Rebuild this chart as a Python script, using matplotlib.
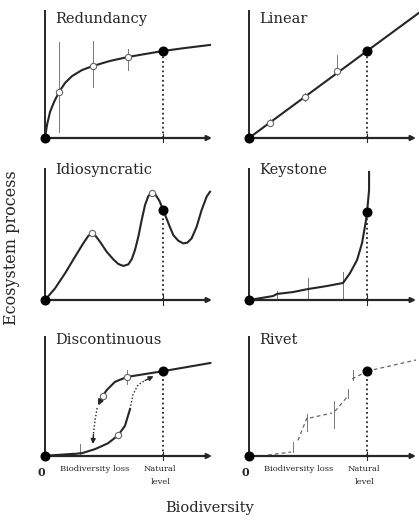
import numpy as np
import matplotlib
matplotlib.use('Agg')
import matplotlib.pyplot as plt

# ---------------- data (axes units: 0 = origin, natural level at 0.707) ----------------
NATURAL_X = 0.707
nan = np.nan

titles = ["Redundancy", "Linear", "Idiosyncratic", "Keystone", "Discontinuous", "Rivet"]
xtick_labels = ["0", "Biodiversity loss", "Natural\nlevel"]

red_x = [0, 0.012, 0.030, 0.054, 0.084, 0.120, 0.162, 0.222, 0.287, 0.389, 0.497, 0.599, 0.707, 0.838, 0.988]
red_y = [0, 0.102, 0.203, 0.281, 0.359, 0.430, 0.484, 0.531, 0.5625, 0.602, 0.633, 0.656, 0.680, 0.703, 0.727]
red_open_x = [0.084, 0.287, 0.497]
red_open_y = [0.359, 0.5625, 0.633]
red_bar_lo = [0.047, 0.40, 0.53]
red_bar_hi = [0.75, 0.76, 0.695]
red_nat_y = 0.68

lin_x = [0, 0.707, 1.02]
lin_y = [0, 0.68, 0.98]
lin_open_x = [0.126, 0.335, 0.527]
lin_open_y = [0.12, 0.32, 0.52]
lin_bar_lo = [0.09, 0.29, 0.49]
lin_bar_hi = [0.15, 0.35, 0.65]
lin_nat_y = 0.68

idi_x = [0, 0.060, 0.120, 0.180, 0.229, 0.259, 0.280, 0.299, 0.329, 0.369, 0.409, 0.439, 0.469,
         0.499, 0.519, 0.539, 0.559, 0.579, 0.599, 0.619, 0.639, 0.659, 0.685, 0.714, 0.739,
         0.768, 0.798, 0.828, 0.852, 0.878, 0.908, 0.938, 0.968, 0.988]
idi_y = [0, 0.088, 0.202, 0.328, 0.429, 0.485, 0.505, 0.492, 0.442, 0.366, 0.308, 0.273, 0.258,
         0.270, 0.308, 0.379, 0.480, 0.606, 0.720, 0.788, 0.813, 0.803, 0.752, 0.662, 0.581,
         0.492, 0.449, 0.429, 0.434, 0.467, 0.555, 0.682, 0.783, 0.820]
idi_open_x = [0.280, 0.639]
idi_open_y = [0.505, 0.813]
idi_nat_y = 0.685

key_x = [0, 0.144, 0.168, 0.263, 0.353, 0.467, 0.563, 0.605, 0.647, 0.677, 0.701, 0.707, 0.719, 0.719]
key_y = [0, 0.030, 0.046, 0.060, 0.083, 0.106, 0.129, 0.204, 0.303, 0.432, 0.606, 0.667, 0.833, 0.97]
key_bar_x = [0.168, 0.353, 0.563]
key_bar_lo = [0.015, 0.015, 0.01]
key_bar_hi = [0.07, 0.17, 0.21]
key_nat_y = 0.667

dis_flat_x = [0, 0.168]
dis_flat_y = [0, 0.016]
dis_low_x = [0.168, 0.222, 0.299, 0.377, 0.437, 0.479, 0.509]
dis_low_y = [0.016, 0.024, 0.057, 0.106, 0.171, 0.252, 0.390]
dis_lowdot_x = [0.509, 0.527, 0.557, 0.600]
dis_lowdot_y = [0.390, 0.512, 0.593, 0.630]
dis_low_arrow = (0.600, 0.630, 0.650, 0.665)
dis_up_x = [0.707, 0.599, 0.491, 0.419, 0.370, 0.345]
dis_up_y = [0.707, 0.683, 0.659, 0.618, 0.550, 0.500]
dis_up_arrow = (0.345, 0.500, 0.318, 0.420)
dis_updot_x = [0.312, 0.300, 0.293, 0.290]
dis_updot_y = [0.400, 0.300, 0.220, 0.180]
dis_updot_arrow = (0.290, 0.180, 0.287, 0.100)
dis_right_x = [0.707, 0.99]
dis_right_y = [0.707, 0.775]
dis_open_x = [0.437, 0.491, 0.345]
dis_open_y = [0.171, 0.659, 0.500]
dis_bar_x = [0.21, 0.491]
dis_bar_lo = [0.02, 0.60]
dis_bar_hi = [0.10, 0.72]
dis_nat_y = 0.707

riv_x = [0.114, 0.251, nan, 0.293, 0.347, nan, 0.365, 0.497, nan, 0.515, 0.593, nan, 0.617, 0.707, nan, 0.707, 1.0]
riv_y = [0.008, 0.033, nan, 0.130, 0.317, nan, 0.317, 0.358, nan, 0.374, 0.500, nan, 0.642, 0.707, nan, 0.707, 0.80]
riv_bar_x = [0.263, 0.347, 0.509, 0.593, 0.623]
riv_bar_lo = [0.03, 0.21, 0.236, 0.48, 0.63]
riv_bar_hi = [0.115, 0.35, 0.455, 0.56, 0.72]
riv_nat_y = 0.707

# ---------------- figure ----------------
W, H = 419, 520
fig = plt.figure(figsize=(W / 100, H / 100), dpi=100)
fig.patch.set_facecolor('white')
ink = '#262626'
grey = '#666666'
plt.rcParams['font.family'] = ['DejaVu Serif']

rows = [(10, 138), (168, 300), (336, 456)]
cols = [45, 249]
AXW = 167


def make_ax(col, row):
    x0 = cols[col]
    top, bottom = rows[row]
    ax = fig.add_axes([x0 / W, 1 - bottom / H, AXW / W, (bottom - top) / H])
    ax.set_xlim(0, 1)
    ax.set_ylim(0, 1)
    ax.axis('off')
    ax.plot([0, 0], [0, 1], color=ink, lw=1.4, clip_on=False, solid_capstyle='butt')
    ax.annotate('', xy=(1.0, 0), xytext=(0, 0),
                arrowprops=dict(arrowstyle='-|>', color=ink, lw=1.6, mutation_scale=7,
                                shrinkA=0, shrinkB=0), annotation_clip=False)
    ax.plot([0], [0], 'o', color='black', ms=6.2, clip_on=False, zorder=6)
    return ax


def natural(ax, y):
    ax.plot([NATURAL_X, NATURAL_X], [0, y], color=ink, lw=1.3, ls=(0, (1, 1.6)), clip_on=False)
    ax.plot([NATURAL_X, NATURAL_X], [-0.035, 0.035], color=ink, lw=0.8, clip_on=False)
    ax.plot([NATURAL_X], [y], 'o', color='black', ms=6.2, clip_on=False, zorder=6)


def bars(ax, xs, lo, hi):
    for x, a, b in zip(xs, lo, hi):
        ax.plot([x, x], [a, b], color='#777777', lw=0.7, clip_on=False)


def opens(ax, xs, ys):
    ax.plot(xs, ys, 'o', ms=4.5, mfc='white', mec='#666666', mew=0.8, clip_on=False, zorder=5, ls='none')


def title(ax, s, rowtitle_y):
    ax.text(0.06, rowtitle_y, s, transform=ax.transAxes, fontsize=10.5, color=ink,
            ha='left', va='center')


def arrow(ax, a, lw=1.0, ls='-'):
    x0, y0, x1, y1 = a
    ax.annotate('', xy=(x1, y1), xytext=(x0, y0),
                arrowprops=dict(arrowstyle='-|>', color=ink, lw=lw, ls=ls, mutation_scale=7,
                                shrinkA=0, shrinkB=0), annotation_clip=False)


title_y = [(138 - 19) / 128, (300 - 170) / 132, (456 - 340) / 120]

# Redundancy
ax = make_ax(0, 0)
title(ax, titles[0], title_y[0])
bars(ax, red_open_x, red_bar_lo, red_bar_hi)
ax.plot(red_x, red_y, color=ink, lw=1.5, clip_on=False)
opens(ax, red_open_x, red_open_y)
natural(ax, red_nat_y)

# Linear
ax = make_ax(1, 0)
title(ax, titles[1], title_y[0])
bars(ax, lin_open_x, lin_bar_lo, lin_bar_hi)
ax.plot(lin_x, lin_y, color=ink, lw=1.5, clip_on=False)
opens(ax, lin_open_x, lin_open_y)
natural(ax, lin_nat_y)

# Idiosyncratic
ax = make_ax(0, 1)
title(ax, titles[2], title_y[1])
ax.plot(idi_x, idi_y, color=ink, lw=1.5, clip_on=False, solid_joinstyle='round')
opens(ax, idi_open_x, idi_open_y)
natural(ax, idi_nat_y)

# Keystone
ax = make_ax(1, 1)
title(ax, titles[3], title_y[1])
bars(ax, key_bar_x, key_bar_lo, key_bar_hi)
ax.plot(key_x, key_y, color=ink, lw=1.5, clip_on=False)
natural(ax, key_nat_y)

# Discontinuous
ax = make_ax(0, 2)
title(ax, titles[4], title_y[2])
bars(ax, dis_bar_x, dis_bar_lo, dis_bar_hi)
ax.plot(dis_flat_x, dis_flat_y, color=ink, lw=1.8, clip_on=False)
ax.plot(dis_low_x, dis_low_y, color=ink, lw=1.5, clip_on=False)
ax.plot(dis_lowdot_x, dis_lowdot_y, color=ink, lw=1.0, ls=(0, (1, 1.5)), clip_on=False)
arrow(ax, dis_low_arrow)
ax.plot(dis_up_x, dis_up_y, color=ink, lw=1.5, clip_on=False)
arrow(ax, dis_up_arrow, lw=1.5)
ax.plot(dis_updot_x, dis_updot_y, color=ink, lw=1.0, ls=(0, (1, 1.5)), clip_on=False)
arrow(ax, dis_updot_arrow)
ax.plot(dis_right_x, dis_right_y, color=ink, lw=1.5, clip_on=False)
opens(ax, dis_open_x, dis_open_y)
natural(ax, dis_nat_y)

# Rivet
ax = make_ax(1, 2)
title(ax, titles[5], title_y[2])
bars(ax, riv_bar_x, riv_bar_lo, riv_bar_hi)
ax.plot(riv_x, riv_y, color=grey, lw=0.9, ls=(0, (3, 2.5)), clip_on=False)
natural(ax, riv_nat_y)

# tick labels under the bottom row
for col in (0, 1):
    ax = fig.axes[4 + col]
    ax.text(-0.02, -0.14, xtick_labels[0], fontsize=8, color=ink, ha='center', va='center', fontweight='bold')
    ax.text(0.30, -0.11, xtick_labels[1], fontsize=6, color=ink, ha='center', va='center')
    ax.text(0.69, -0.11, "Natural", fontsize=6, color=ink, ha='center', va='center')
    ax.text(0.69, -0.215, "level", fontsize=6, color=ink, ha='center', va='center')

fig.text(12 / W, 1 - 248 / H, "Ecosystem process", rotation=90, fontsize=11.5, color=ink,
         ha='center', va='center')
fig.text(210 / W, 1 - 508 / H, "Biodiversity", fontsize=10.5, color=ink, ha='center', va='center')

fig.savefig('out.png', dpi=100, facecolor='white')
